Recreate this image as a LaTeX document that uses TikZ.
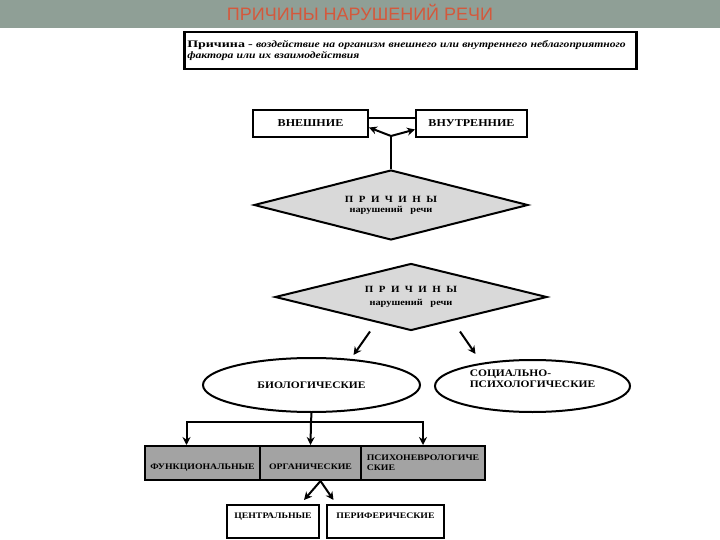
\documentclass[tikz,border=0pt]{standalone}
\usepackage{fontspec}
\setmainfont{Liberation Serif}
\newfontfamily\titlefont{Liberation Sans}
\newfontfamily\wideserif{Liberation Serif}[FakeStretch=1.15]
\newfontfamily\defserif{Liberation Serif}[FakeStretch=1.2]
\newfontfamily\namefont{Liberation Serif}[FakeStretch=1.4]
\usetikzlibrary{shapes.geometric, arrows.meta}

\definecolor{bargreen}{RGB}{143,159,150}
\definecolor{titlered}{RGB}{212,88,60}
\definecolor{rhombgray}{RGB}{217,217,217}
\definecolor{cellgray}{RGB}{163,163,163}

\begin{document}
\begin{tikzpicture}
        [x=1pt, y=-1pt, >={Stealth[length=8pt, width=8pt]},
         box/.style={rectangle, draw=black, line width=2pt, fill=white, inner sep=1pt},
         rhomb/.style={diamond, aspect=4, draw=black, line width=2pt, fill=rhombgray, inner sep=0pt, align=center},
         oval/.style={ellipse, draw=black, line width=2pt, fill=white, inner sep=0pt},
         cell/.style={rectangle, draw=black, line width=2pt, fill=cellgray, minimum height=34pt, inner sep=1pt},
         link/.style={line width=2pt},
         arrow/.style={->, line width=2pt}]

        \useasboundingbox (0,0) rectangle (720,540);

        % title bar
        \fill[bargreen] (0,0) rectangle (720,28);
        \node[text=titlered, font=\titlefont\fontsize{18}{20}\selectfont] (title) at (360,12) {ПРИЧИНЫ НАРУШЕНИЙ РЕЧИ};

        % definition
        \node[box, line width=2.5pt, anchor=north west, minimum width=452pt, minimum height=37pt,
              text width=446pt, align=left, inner xsep=2pt, font=\defserif\bfseries\fontsize{9.7}{11.5}\selectfont]
              (cause) at (183,31) {{\namefont\fontsize{10}{11}\selectfont Причина -} \itshape воздействие на организм внешнего или внутреннего неблагоприятного\\фактора или их взаимодействия};

        % external / internal
        \node[box, minimum width=115pt, minimum height=27pt, font=\wideserif\bfseries\fontsize{10.5}{12}\selectfont] (outer) at (310.5,123.5) {ВНЕШНИЕ};
        \node[box, minimum width=111pt, minimum height=27pt, font=\wideserif\bfseries\fontsize{10.5}{12}\selectfont] (inner) at (471.5,123.5) {ВНУТРЕННИЕ};
        \draw[link] ([yshift=5.5pt]outer.east) -- ([yshift=5.5pt]inner.west);

        \node[rhomb, minimum width=274pt, minimum height=70pt, font=\wideserif\bfseries\fontsize{9}{10}\selectfont] (why1) at (391,205)
              {\fontsize{9.5}{10}\selectfont П~~Р~~И~~Ч~~И~~Н~~Ы\\нарушений~~~речи};

        \coordinate (fork) at (391,136);
        \draw[link] (why1.north) -- (fork);
        \draw[arrow] (fork) -- ([yshift=-4pt]outer.east);
        \draw[arrow] (fork) -- ([yshift=-6pt]inner.west);

        % second block
        \node[rhomb, minimum width=272pt, minimum height=67pt, font=\wideserif\bfseries\fontsize{9}{10}\selectfont] (why2) at (411,297)
              {\fontsize{9.5}{10}\selectfont П~~Р~~И~~Ч~~И~~Н~~Ы\\[3pt]нарушений~~~речи};

        \node[oval, minimum width=217pt, minimum height=54pt, font=\wideserif\bfseries\fontsize{10}{12}\selectfont] (bio) at (311.5,385) {БИОЛОГИЧЕСКИЕ};
        \node[oval, minimum width=195pt, minimum height=52pt, align=left, font=\wideserif\bfseries\fontsize{10}{11}\selectfont] (social) at (532.5,386)
              {СОЦИАЛЬНО-\\ПСИХОЛОГИЧЕСКИЕ\\[4pt]};

        \draw[arrow] ([xshift=-41pt]why2.south) -- ([xshift=42pt, yshift=2pt]bio.north);
        \draw[arrow] ([xshift=49pt]why2.south) -- ([xshift=-57pt, yshift=5pt]social.north);

        % kinds of biological causes
        \node[cell, minimum width=115pt, text height=15pt, text depth=2pt, font=\wideserif\bfseries\fontsize{8.5}{10}\selectfont] (func) at (202.5,463) {ФУНКЦИОНАЛЬНЫЕ};
        \node[cell, minimum width=101pt, text height=15pt, text depth=2pt, font=\wideserif\bfseries\fontsize{8.5}{10}\selectfont] (org) at (310.5,463) {ОРГАНИЧЕСКИЕ};
        \node[cell, minimum width=124pt, align=left, font=\wideserif\bfseries\fontsize{8.5}{10}\selectfont] (psy) at (423,463) {ПСИХОНЕВРОЛОГИЧЕ\\СКИЕ};

        \coordinate (split) at (311,422);
        \draw[link] (bio.south) -- (split);
        \draw[arrow] (split) -- (org.north);
        \draw[arrow] (split) -| ([xshift=-16pt]func.north);
        \draw[arrow] (split) -| (psy.north);

        \node[box, minimum width=92pt, minimum height=33pt, text height=7pt, text depth=13pt, font=\wideserif\bfseries\fontsize{8.5}{10}\selectfont] (central) at (273,521.5) {ЦЕНТРАЛЬНЫЕ};
        \node[box, minimum width=117pt, minimum height=33pt, text height=7pt, text depth=13pt, font=\wideserif\bfseries\fontsize{8.5}{10}\selectfont] (periph) at (385.5,521.5) {ПЕРИФЕРИЧЕСКИЕ};

        \draw[arrow] ([xshift=10pt]org.south) -- ([xshift=31pt, yshift=4pt]central.north);
        \draw[arrow] ([xshift=10pt]org.south) -- ([xshift=-52pt, yshift=4pt]periph.north);
    \end{tikzpicture}
\end{document}
